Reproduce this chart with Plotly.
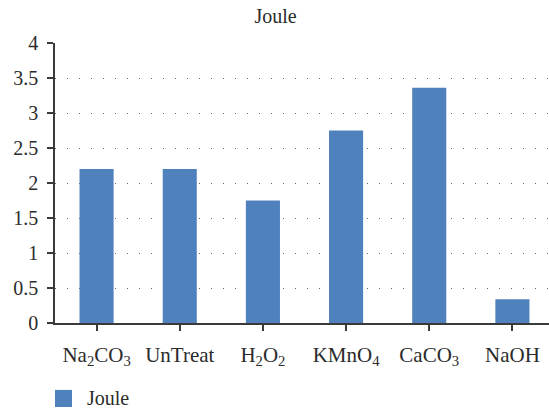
import plotly.graph_objects as go

# Treatment categories (with chemical subscripts) and measured energy
categories = ["Na<sub>2</sub>CO<sub>3</sub>", "UnTreat", "H<sub>2</sub>O<sub>2</sub>",
              "KMnO<sub>4</sub>", "CaCO<sub>3</sub>", "NaOH"]
joule = [2.2, 2.2, 1.75, 2.75, 3.36, 0.34]
y_ticks = [0, 0.5, 1, 1.5, 2, 2.5, 3, 3.5, 4]
y_labels = ["0", "0.5", "1", "1.5", "2", "2.5", "3", "3.5", "4"]
series_name = "Joule"

FONT = "Liberation Serif"
TEXT = "#2b2b2b"
BAR = "#4f81bd"
AXIS = "#3a3a3a"

fig = go.Figure()
fig.add_trace(go.Bar(
    x=list(range(len(categories))), y=joule, name=series_name,
    marker=dict(color=BAR, line=dict(width=0)),
    width=0.41, showlegend=False,
))

# Legend key drawn below the plot: a swatch and its label
fig.add_shape(type="rect", xref="paper", yref="paper",
              x0=0.0, x1=0.0344, y0=-0.30, y1=-0.239,
              fillcolor=BAR, line=dict(width=0))
fig.add_annotation(text=series_name, xref="paper", yref="paper",
                   x=0.06, y=-0.268, xanchor="left", yanchor="middle",
                   showarrow=False, font=dict(family=FONT, size=20, color=TEXT))

fig.update_layout(
    width=549, height=413,
    margin=dict(l=55, r=0, t=43, b=90),
    paper_bgcolor="white", plot_bgcolor="white",
    font=dict(family=FONT, size=20, color=TEXT),
    title=dict(text="Joule", x=0.502, xanchor="center", y=0.962, yanchor="middle",
               font=dict(family=FONT, size=20, color=TEXT)),
    showlegend=False,
)

fig.update_xaxes(
    tickmode="array", tickvals=list(range(len(categories))), ticktext=categories,
    range=[-0.5, 5.44],
    showline=True, linecolor=AXIS, linewidth=1.5,
    ticks="outside", ticklen=6, tickcolor=AXIS, tickwidth=1.5,
    tickson="boundaries", ticklabelstandoff=6,
    showgrid=False, zeroline=False,
    tickfont=dict(family=FONT, size=21, color=TEXT),
)

fig.update_yaxes(
    range=[0, 4], tickmode="array", tickvals=y_ticks, ticktext=y_labels,
    showline=True, linecolor=AXIS, linewidth=1.5,
    ticks="outside", ticklen=6, tickcolor=AXIS, tickwidth=1.5,
    ticklabelstandoff=5,
    showgrid=True, gridcolor="#666666", gridwidth=1.2, griddash="1px,11px",
    zeroline=False,
    tickfont=dict(family=FONT, size=20, color=TEXT),
)

fig.write_html("out.html")
